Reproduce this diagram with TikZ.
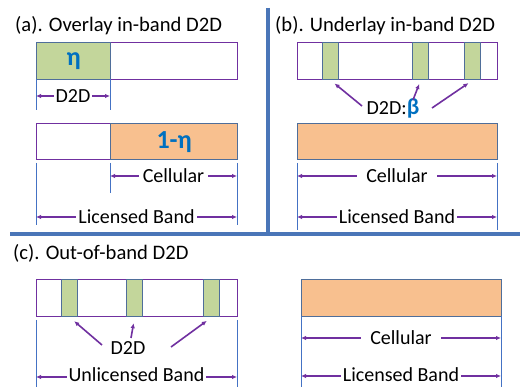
\documentclass[tikz,border=0pt]{standalone}
\usepackage{fontspec}
\setmainfont{Carlito}
\usetikzlibrary{arrows.meta}
\definecolor{purp}{HTML}{7030A0}
\definecolor{grn}{HTML}{C3D69B}
\definecolor{orng}{HTML}{F8C08F}
\definecolor{edgeb}{HTML}{4F6E9A}
\definecolor{dimb}{HTML}{4472C4}
\definecolor{divb}{HTML}{4A76B8}
\definecolor{etablue}{HTML}{0070C0}
\begin{document}
\begin{tikzpicture}[x=1pt,y=-1pt,
 bar/.style={draw=purp,line width=1pt,inner sep=0,anchor=north west,minimum height=37pt},
 gbox/.style={fill=grn,draw=edgeb,line width=1.3pt,inner sep=0,anchor=north west,minimum height=37pt,minimum width=16pt},
 obox/.style={fill=orng,draw=edgeb,line width=1.3pt,inner sep=0,anchor=north west,minimum height=36pt},
 dimln/.style={draw=dimb,line width=0.8pt},
 divline/.style={draw=divb,line width=4pt},
 dimarr/.style={draw=purp,line width=1.6pt,{Latex[length=5pt,width=4.5pt]}-{Latex[length=5pt,width=4.5pt]}},
 ptr/.style={draw=purp,line width=1.6pt,-{Latex[length=5pt,width=4.5pt]}},
 lbl/.style={fill=white,inner ysep=1pt,inner xsep=2pt,font=\fontsize{20}{22}\selectfont},
 ttl/.style={anchor=west,inner sep=0,font=\fontsize{20.6}{22}\selectfont},
 big/.style={text=etablue,font=\fontsize{26}{28}\selectfont\bfseries}]
\useasboundingbox (0,0) rectangle (520,387);
\fill[white] (0,0) rectangle (520,387);

% dividers
\draw[divline] (268,8) -- (268,234);
\draw[divline] (10,234) -- (520,234);

% ---------- (a) ----------
\node[ttl] (ta) at (15,26) {(a). Overlay in-band D2D};
\node[bar,minimum width=201pt] (abar) at (36,42) {};
\node[gbox,minimum width=74pt] (ag) at (36,42) {};
\node[big] (eta) at (ag.center) {η};
\node[bar,minimum width=201pt,minimum height=36pt] (bbar) at (36,123) {};
\node[obox,minimum width=127pt] (bo) at (110,123) {};
\node[big] (oneeta) at (bo.center) {1-η};
\draw[dimln] (36,79) -- (36,110);
\draw[dimln] (110,79) -- (110,110);
\draw[dimarr] (36,96) -- (110,96) node[lbl,midway] (ad2d) {D2D};
\draw[dimln] (36,163) -- (36,225);
\draw[dimln] (110,163) -- (110,193);
\draw[dimln] (237,163) -- (237,225);
\draw[dimarr] (110,176) -- (237,176) node[lbl,midway,inner xsep=4pt] (acell) {Cellular};
\draw[dimarr] (36,217) -- (237,217) node[lbl,midway] (alic) {Licensed Band};

% ---------- (b) ----------
\node[ttl] (tb) at (275,26) {(b). Underlay in-band D2D};
\node[bar,minimum width=200pt] (bbar1) at (297,42) {};
\node[gbox] (bg1) at (322,42) {};
\node[gbox] (bg2) at (412,42) {};
\node[gbox] (bg3) at (464,42) {};
\node[lbl,fill=none,inner sep=1pt] (blbl) at (393,108) {D2D:{\bfseries\color{etablue}\fontsize{23}{24}\selectfont β}};
\coordinate (bs1) at (362,106);
\coordinate (bs2) at (413,100);
\coordinate (bs3) at (432,108);
\draw[ptr,shorten >=5pt] (bs1) -- (bg1.south);
\draw[ptr,shorten >=4pt] (bs2) -- (bg2.south);
\draw[ptr,shorten >=5pt] (bs3) -- (bg3.south);
\node[obox,minimum width=200pt] (bo2) at (297,123) {};
\draw[dimln] (297,163) -- (297,230);
\draw[dimln] (497,163) -- (497,230);
\draw[dimarr] (297,176) -- (497,176) node[lbl,midway,inner xsep=9pt] (bcell) {Cellular};
\draw[dimarr] (297,217) -- (497,217) node[lbl,midway] (blic) {Licensed Band};

% ---------- (c) ----------
\node[ttl] (tc) at (13,253) {(c). Out-of-band D2D};
\node[bar,minimum width=201pt] (cbar) at (36,279) {};
\node[gbox] (cg1) at (61,279) {};
\node[gbox] (cg2) at (126,279) {};
\node[gbox] (cg3) at (203,279) {};
\node[lbl,fill=none] (clbl) at (128,348) {D2D};
\coordinate (cs1) at (102,345);
\coordinate (cs2) at (131,338);
\coordinate (cs3) at (171,347);
\draw[ptr,shorten >=6pt] (cs1) -- (cg1.south);
\draw[ptr,shorten >=6pt] (cs2) -- (cg2.south);
\draw[ptr,shorten >=6pt] (cs3) -- (cg3.south);
\draw[dimln] (36,320) -- (36,387);
\draw[dimln] (237,320) -- (237,387);
\draw[dimarr] (36,377) -- (237,377) node[lbl,midway,yshift=2.5pt,inner ysep=0pt] (cunl) {Unlicensed Band};

% ---------- (d) ----------
\node[obox,minimum width=200pt,minimum height=37pt] (do) at (301,279) {};
\draw[dimln] (301,316) -- (301,387);
\draw[dimln] (501,316) -- (501,387);
\draw[dimarr] (301,338) -- (501,338) node[lbl,midway,inner xsep=9pt] (dcell) {Cellular};
\draw[dimarr] (301,376) -- (501,376) node[lbl,midway,yshift=1.5pt] (dlic) {Licensed Band};
\end{tikzpicture}
\end{document}
